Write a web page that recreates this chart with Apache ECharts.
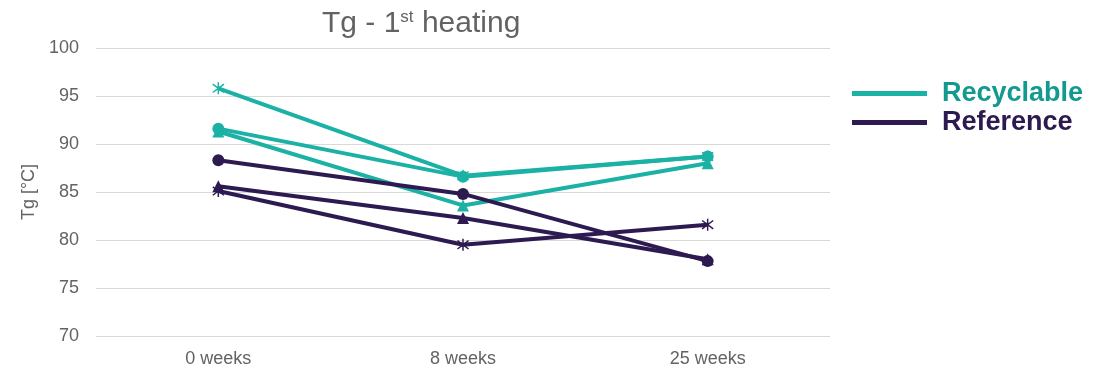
<!DOCTYPE html>
<html>
<head>
<meta charset="utf-8">
<script src="https://cdn.jsdelivr.net/npm/echarts@6/dist/echarts.min.js"></script>
<style>
  html, body { margin: 0; padding: 0; background: #ffffff; }
  #chart { width: 1107px; height: 373px; }
</style>
</head>
<body>
<div id="chart"></div>
<script>
// Storage time points
const categories = ['0 weeks', '8 weeks', '25 weeks'];

// Glass transition temperature, 1st heating [°C]
const recyclableStar     = [95.8, 86.7, 88.7];
const recyclableCircle   = [91.6, 86.6, 88.7];
const recyclableTriangle = [91.3, 83.6, 88.0];
const referenceCircle    = [88.3, 84.8, 77.8];
const referenceTriangle  = [85.6, 82.3, 78.0];
const referenceStar      = [85.1, 79.5, 81.6];

const yTicks = { min: 70, max: 100, interval: 5 };

const TEAL = '#1bb1a5';
const PURPLE = '#2d1a50';
const GREY = '#636363';

// Asterisk marker: a vertical bar crossed by two diagonals
const STAR = 'path://M4.4 0 L5.6 0 L5.6 10 L4.4 10 Z ' +
  'M0.13 1.97 L0.87 1.03 L9.87 8.03 L9.13 8.97 Z ' +
  'M0.87 8.97 L0.13 8.03 L9.13 1.03 L9.87 1.97 Z';

function line(name, data, color, symbol, size) {
  return {
    name: name,
    type: 'line',
    data: data,
    symbol: symbol,
    symbolSize: size,
    lineStyle: { color: color, width: 4 },
    itemStyle: { color: color },
    emphasis: { disabled: true },
    z: name === 'Reference' ? 3 : 2
  };
}

const chart = echarts.init(document.getElementById('chart'), null, { renderer: 'canvas' });
chart.setOption({
  animation: false,
  backgroundColor: '#ffffff',
  title: {
    text: '{main|Tg - 1}{sup|st}{main| heating}',
    left: 317,
    top: 4,
    textStyle: {
      rich: {
        main: { fontFamily: 'Liberation Sans', fontSize: 30, fontWeight: 'normal', color: GREY },
        sup: { fontFamily: 'Liberation Sans', fontSize: 17, fontWeight: 'normal', color: GREY, verticalAlign: 'top', padding: [0, 0, 12, 0] }
      }
    }
  },
  legend: {
    orient: 'vertical',
    left: 847,
    top: 75,
    icon: 'rect',
    itemWidth: 75,
    itemHeight: 5,
    itemGap: 2,
    selectedMode: false,
    textStyle: { fontFamily: 'Liberation Sans', fontSize: 27, fontWeight: 'bold', padding: [0, 0, 0, 10] },
    data: [
      { name: 'Recyclable', textStyle: { color: '#139a90' } },
      { name: 'Reference', textStyle: { color: PURPLE } }
    ]
  },
  grid: { left: 96, right: 277, top: 48, bottom: 37, containLabel: false },
  xAxis: {
    type: 'category',
    data: categories,
    boundaryGap: true,
    axisLine: { show: false },
    axisTick: { show: false },
    axisLabel: { fontFamily: 'Liberation Sans', fontSize: 18, color: GREY, margin: 14 }
  },
  yAxis: {
    type: 'value',
    min: yTicks.min,
    max: yTicks.max,
    interval: yTicks.interval,
    name: 'Tg [°C]',
    nameLocation: 'middle',
    nameGap: 55,
    nameTextStyle: { fontFamily: 'Liberation Sans', fontSize: 18, color: GREY },
    axisLine: { show: false },
    axisTick: { show: false },
    axisLabel: { fontFamily: 'Liberation Sans', fontSize: 18, color: GREY, margin: 17 },
    splitLine: { lineStyle: { color: '#d9d9d9', width: 1 } }
  },
  series: [
    line('Recyclable', recyclableStar, TEAL, STAR, 12),
    line('Recyclable', recyclableCircle, TEAL, 'circle', 12),
    line('Recyclable', recyclableTriangle, TEAL, 'triangle', 12),
    line('Reference', referenceCircle, PURPLE, 'circle', 12),
    line('Reference', referenceTriangle, PURPLE, 'triangle', 12),
    line('Reference', referenceStar, PURPLE, STAR, 12)
  ]
});
</script>
</body>
</html>
